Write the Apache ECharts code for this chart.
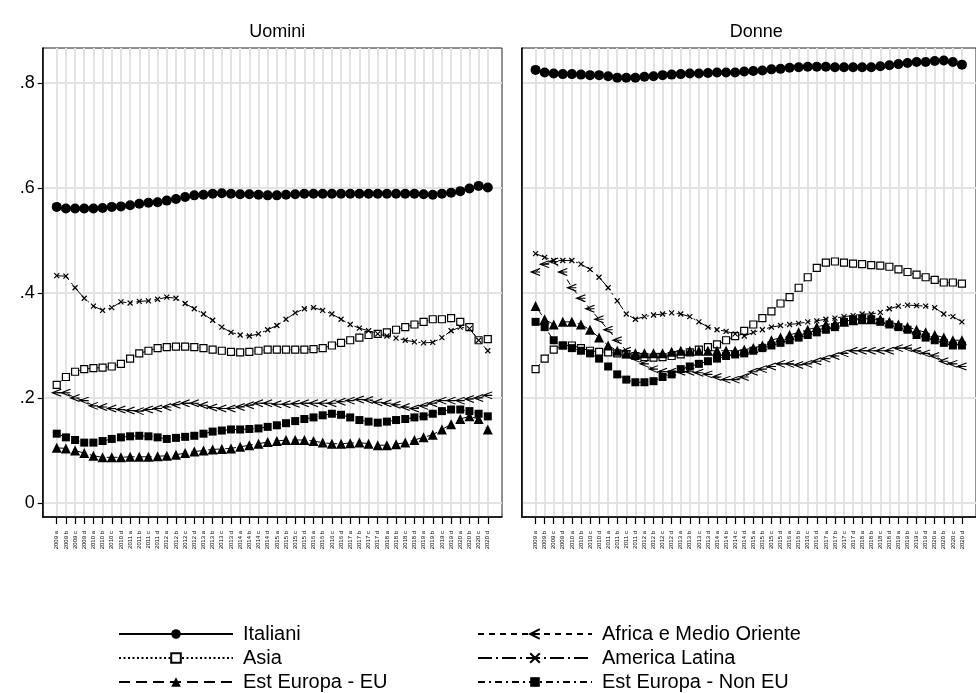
<!DOCTYPE html>
<html><head><meta charset="utf-8">
<script src="https://cdn.jsdelivr.net/npm/echarts@6/dist/echarts.min.js"></script>
<style>html,body{margin:0;padding:0;background:#fff}#c{width:976px;height:693px}</style>
</head><body><div id="c"></div>
<script>
const categories = ['2009 a','2009 b','2009 c','2009 d','2010 a','2010 b','2010 c','2010 d','2011 a','2011 b','2011 c','2011 d','2012 a','2012 b','2012 c','2012 d','2013 a','2013 b','2013 c','2013 d','2014 a','2014 b','2014 c','2014 d','2015 a','2015 b','2015 c','2015 d','2016 a','2016 b','2016 c','2016 d','2017 a','2017 b','2017 c','2017 d','2018 a','2018 b','2018 c','2018 d','2019 a','2019 b','2019 c','2019 d','2020 a','2020 b','2020 c','2020 d'];
const panels = ['Uomini', 'Donne'];
const seriesNames = ['Italiani','Asia','Est Europa - EU','Africa e Medio Oriente','America Latina','Est Europa - Non EU'];
const yTicks = [0, 0.2, 0.4, 0.6, 0.8];

// Uomini
const uItal = [.564,.561,.561,.561,.561,.562,.564,.565,.567,.570,.572,.573,.576,.579,.583,.586,.587,.589,.590,.589,.588,.588,.587,.586,.586,.587,.588,.589,.589,.589,.589,.589,.589,.589,.589,.589,.589,.589,.589,.589,.588,.587,.589,.591,.594,.599,.604,.601];
const uAsia = [.225,.24,.25,.255,.257,.258,.26,.265,.275,.285,.29,.295,.297,.298,.298,.297,.295,.292,.29,.288,.287,.288,.29,.292,.292,.292,.292,.292,.293,.295,.30,.305,.31,.315,.32,.322,.325,.33,.335,.34,.345,.35,.35,.352,.345,.335,.31,.312];
const uEEU = [.105,.104,.1,.095,.09,.087,.087,.087,.088,.088,.088,.089,.09,.092,.095,.098,.1,.102,.103,.104,.107,.11,.113,.116,.118,.12,.12,.12,.118,.115,.113,.113,.114,.115,.113,.11,.11,.112,.115,.12,.125,.13,.14,.15,.16,.165,.16,.14];
const uAfr = [.21,.21,.2,.195,.185,.183,.18,.178,.176,.175,.178,.18,.183,.187,.19,.19,.186,.182,.18,.18,.183,.186,.19,.19,.188,.188,.189,.19,.19,.19,.19,.193,.195,.197,.196,.192,.19,.187,.183,.18,.185,.19,.195,.195,.195,.198,.2,.205];
const uAml = [.433,.432,.41,.39,.375,.367,.372,.383,.381,.384,.385,.388,.392,.39,.38,.37,.36,.348,.335,.325,.32,.318,.322,.33,.338,.35,.362,.37,.372,.367,.36,.35,.34,.333,.328,.322,.318,.314,.31,.307,.305,.306,.315,.328,.335,.332,.31,.29];
const uENEU = [.132,.125,.12,.115,.115,.118,.122,.125,.127,.128,.127,.125,.122,.124,.126,.128,.132,.136,.138,.14,.14,.141,.142,.145,.148,.152,.156,.16,.163,.167,.17,.168,.163,.158,.155,.153,.155,.158,.16,.163,.165,.17,.175,.178,.178,.175,.17,.165];

// Donne
const dItal = [.825,.82,.818,.817,.817,.816,.815,.815,.813,.81,.81,.81,.812,.813,.815,.816,.817,.818,.818,.819,.82,.82,.82,.822,.823,.824,.826,.827,.829,.83,.831,.831,.831,.83,.83,.83,.83,.83,.832,.834,.836,.838,.84,.84,.842,.843,.84,.835];
const dAsia = [.255,.275,.292,.30,.30,.295,.29,.288,.287,.285,.283,.28,.278,.277,.278,.28,.283,.287,.292,.297,.302,.31,.318,.328,.34,.352,.365,.38,.392,.41,.43,.448,.458,.46,.458,.456,.455,.453,.452,.45,.445,.44,.435,.43,.425,.42,.42,.418];
const dEEU = [.375,.35,.34,.345,.345,.34,.33,.315,.3,.29,.285,.285,.285,.285,.285,.288,.29,.29,.29,.29,.29,.29,.29,.292,.295,.3,.31,.315,.32,.325,.33,.335,.34,.342,.345,.348,.35,.35,.35,.345,.34,.335,.33,.325,.32,.315,.31,.31];
const dAfr = [.44,.455,.46,.44,.41,.39,.37,.35,.33,.31,.29,.275,.265,.255,.25,.25,.25,.25,.248,.245,.24,.235,.235,.24,.25,.255,.26,.265,.265,.263,.265,.27,.275,.28,.285,.29,.29,.29,.29,.29,.295,.295,.29,.285,.28,.27,.265,.26];
const dAml = [.475,.468,.462,.462,.462,.455,.445,.43,.41,.385,.36,.35,.355,.358,.36,.362,.36,.355,.345,.335,.33,.327,.322,.318,.325,.33,.335,.338,.34,.342,.345,.347,.35,.352,.355,.357,.36,.36,.363,.37,.375,.377,.376,.375,.372,.36,.355,.345];
const dENEU = [.345,.335,.31,.3,.295,.29,.285,.275,.26,.245,.235,.23,.23,.232,.24,.245,.255,.26,.265,.27,.275,.28,.283,.285,.29,.295,.3,.305,.31,.315,.32,.325,.33,.335,.345,.35,.352,.35,.345,.34,.335,.33,.32,.315,.31,.305,.3,.3];

const panelData = [
  [uItal, uAsia, uEEU, uAfr, uAml, uENEU],
  [dItal, dAsia, dEEU, dAfr, dAml, dENEU]
];

const FONT = '"Liberation Sans", Arial, Helvetica, sans-serif';
const styles = [
  { symbol: 'circle', symbolSize: 10, fill: '#000', line: 'solid' },
  { symbol: 'rect', symbolSize: 7, fill: '#fff', line: [2, 2.5] },
  { symbol: 'triangle', symbolSize: 10, fill: '#000', line: [11, 6] },
  { symbol: 'path://M10,0L0,5L10,10M0,5L10,5', symbolSize: [9, 7], fill: 'none', line: [6, 5] },
  { symbol: 'path://M0,0L10,10M10,0L0,10', symbolSize: 5, fill: 'none', line: [14, 4, 2, 4] },
  { symbol: 'rect', symbolSize: 8, fill: '#000', line: [7, 4, 2, 4] }
];

const idx = categories.map((c, i) => i);
const gridW = 459.3;
const gridLefts = [42.7, 521.7];

const grids = [], xAxes = [], yAxes = [], series = [], titles = [];
panels.forEach((p, g) => {
  grids.push({ left: gridLefts[g], top: 48, width: gridW, height: 469, show: true, borderColor: '#222', borderWidth: 1, backgroundColor: '#fff', containLabel: false });
  titles.push({ text: p, left: gridLefts[g] + gridW / 2, top: 18, textAlign: 'center',
    textStyle: { fontFamily: FONT, fontSize: 18, fontWeight: 'normal', color: '#000' } });
  xAxes.push({
    type: 'value', gridIndex: g, min: -1.53, max: 48.55,
    axisLine: { show: true, onZero: false, lineStyle: { color: '#000', width: 1.5 } },
    axisTick: { show: true, customValues: idx, length: 7, lineStyle: { color: '#000', width: 1.2 } },
    axisLabel: { show: true, customValues: idx, rotate: 90, fontSize: 6, fontFamily: FONT, color: '#000', margin: 14,
      padding: [23, 0, 0, 0], formatter: v => categories[v] || '' },
    splitLine: { show: true, lineStyle: { color: '#e3e3e3', width: 2 } }
  });
  yAxes.push({
    type: 'value', gridIndex: g, min: -0.0267, max: 0.8667,
    axisLine: { show: true, onZero: false, lineStyle: { color: '#000', width: 1.5 } },
    axisTick: { show: g === 0, customValues: yTicks, length: 5, lineStyle: { color: '#000', width: 1.2 } },
    axisLabel: { show: g === 0, customValues: yTicks, fontSize: 18, fontFamily: FONT, color: '#000', margin: 8,
      formatter: v => v === 0 ? '0' : v.toFixed(1).replace(/^0/, '') },
    splitLine: { show: true, lineStyle: { color: '#e3e3e3', width: 2 } }
  });
  panelData[g].forEach((arr, s) => {
    const st = styles[s];
    series.push({
      name: seriesNames[s], type: 'line', xAxisIndex: g, yAxisIndex: g,
      data: arr.map((v, i) => [i, v]),
      symbol: st.symbol, symbolSize: st.symbolSize, showSymbol: true, showAllSymbol: true,
      lineStyle: { color: '#000', width: 1, type: st.line },
      itemStyle: { color: st.fill === 'none' ? 'rgba(0,0,0,0)' : st.fill, borderColor: '#000', borderWidth: st.fill === '#000' ? 0 : 1.2 },
      emphasis: { disabled: true }, animation: false, clip: false, z: 3
    });
  });
});

const legendLefts = [118, 118, 118, 477, 477, 477];
const legendTops = [623, 647, 671, 623, 647, 671];
const legends = seriesNames.map((n, k) => ({
  left: legendLefts[k], top: legendTops[k], orient: 'horizontal', itemWidth: 114, itemHeight: 12, selectedMode: false,
  padding: 0, data: [n],
  textStyle: { fontFamily: FONT, fontSize: 20, color: '#000', lineHeight: 22, padding: [0, 0, 0, 5] }
}));

const option = {
  animation: false,
  backgroundColor: '#fff',
  title: titles,
  grid: grids, xAxis: xAxes, yAxis: yAxes, series: series,
  legend: legends
};
const chart = echarts.init(document.getElementById('c'), null, { renderer: 'canvas' });
chart.setOption(option);
</script></body></html>
